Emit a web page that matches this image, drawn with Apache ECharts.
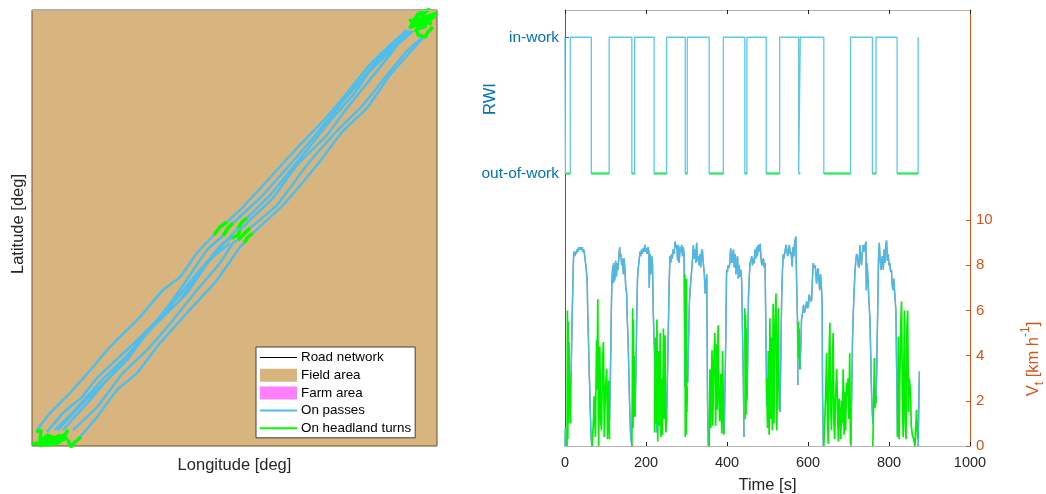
<!DOCTYPE html>
<html>
<head>
<meta charset="utf-8">
<style>html,body{margin:0;padding:0;background:#fff}#c{width:1046px;height:494px}</style>
<script src="https://cdn.jsdelivr.net/npm/echarts@6/dist/echarts.min.js"></script>
</head>
<body>
<div id="c"></div>
<script>
// ---------- Map panel data (relative longitude / latitude) ----------
const fieldLon = [0, 405, 405, 0];
const fieldLat = [0, 0, 436, 436];

const passLons = [
  [5,18,38,61,78,108,131,148,165,182],
  [195,210,235,265,291,311,335,355,375],
  [15,31,50,65,98,125,150,175,191],
  [201,228,255,281,308,328,348,378],
  [23,43,70,98,121,148,171,191,200],
  [215,238,271,298,321,338,365,381],
  [31,58,81,108,141,168,195,206],
  [208,220,241,265,295,315,345,371],
  [41,65,91,115,141,165,188,201,206],
  [218,245,275,305,331,355,375,390],
  [48,65,85,105,128,155,185,208,212],
  [221,251,285,311,335,358,391],
  [26,51,75,95,115,135,155,178,198]
];
const passLats = [
  [16,33,53,79,99,129,156,169,193,211],
  [224,238,265,298,325,348,378,398,416],
  [14,33,49,68,99,126,159,196,210],
  [223,248,278,308,341,365,388,415],
  [16,36,66,93,119,146,179,203,208],
  [228,251,291,325,351,375,401,415],
  [16,46,73,106,143,176,206,218],
  [216,228,248,281,311,338,375,408],
  [16,39,73,96,126,156,183,203,206],
  [218,241,281,315,341,371,395,408],
  [9,29,56,73,103,133,166,199,203],
  [213,241,281,315,338,371,408],
  [16,43,66,86,113,133,153,186,203]
];
const turnLons = [
  [182,188,195],[191,196,201],[206,210,215],[200,206,208],[206,213,218],[212,216,221],
  [0,6,16,24,30,36],[4,9,8,10],[14,23,33,36],[36,39,43,49],[13,21,29,16,26,34],[9,18,28],[12,20,30,22,14,25],[6,14,24,30],
  [377,391,405],[388,396],[377,385,395,401],[383,388,393],[385,386,393,396,401],[380,390,400],[379,386,398],[384,392,400],[381,389,394,386],[387,395,403]
];
const turnLats = [
  [211,219,224],[210,218,223],[218,224,228],[208,211,216],[206,213,218],[203,209,213],
  [2,3,1,4,6,8],[14,16,6,-1],[11,8,11,16],[6,-1,4,9],[6,9,4,3,7,9],[8,4,11],[10,6,7,2,5,9],[1,5,2,6],
  [425,428,433],[429,436],[418,423,426,428],[414,421,429],[416,411,409,414,419],[419,424,431],[420,432,437],[414,425,422],[422,426,420,417],[418,424,430]
];
const legendNames = ['Road network','Field area','Farm area','On passes','On headland turns'];

// ---------- RWI data ----------
const rwiTime = [0,1,13,65,109,165,172,220,251,297,302,356,391,444,449,497,530,577,581,639,705,759,768,820,872];
const rwiState = [1,0,1,0,1,0,1,0,1,0,1,0,1,0,1,0,1,0,1,0,1,0,1,0,1];
const rwiLabels = ['out-of-work','in-work'];

// ---------- Speed data ----------
const passTime = [
0,1,2,3,null,
13,15,17,19,20,21,22,24,26,28,30,32,34,36,38,40,42,44,46,48,50,52,54,55,56,58,60,62,64,66,null,
110,112,114,115,116,118,119,120,122,124,125,127,129,131,133,135,136,138,140,142,144,146,148,150,152,154,156,158,160,162,165,null,
173,175,177,179,181,183,185,187,189,191,193,195,197,199,201,203,205,207,208,210,212,214,216,218,220,222,224,226,null,
251,253,255,257,259,261,263,265,267,269,271,272,274,276,278,280,282,284,286,288,290,292,294,296,null,
303,305,307,309,311,313,315,317,319,321,323,325,327,329,331,333,335,337,339,342,344,346,348,350,352,354,null,
393,395,397,399,401,403,405,407,409,412,414,416,418,420,422,424,426,428,430,432,434,436,439,440,442,null,
450,452,453,455,457,459,461,463,465,467,469,471,473,475,477,479,482,484,486,488,490,492,494,496,498,null,
531,533,535,537,539,541,543,546,548,550,552,554,556,558,561,563,565,567,570,571,572,574,575,null,
580,582,584,586,589,591,593,595,597,599,601,603,605,607,609,611,613,615,617,619,621,623,625,627,629,631,633,635,636,638,null,
706,708,710,712,714,716,718,720,722,724,726,728,730,732,734,736,738,740,743,744,746,748,750,753,755,757,760,null,
768,770,771,773,774,776,778,780,782,784,786,788,790,792,794,796,798,800,802,804,806,808,810,812,814,817,819,821,null,
872,873,874,875
];
const passSpeed = [
0,0.8,0.7,0,null,
1.3,3.1,5.1,6.8,7.6,8.3,8.6,8.4,8.6,8.5,8.7,8.6,8.8,8.7,8.8,8.7,8.8,8.6,8.7,8.5,8.2,7.9,7.5,7.1,6.0,4.6,3.2,1.9,0.6,0,null,
1.1,3.0,5.5,6.6,7.4,8.0,7.2,8.1,7.3,7.5,8.2,7.5,8.1,7.8,8.4,8.8,8.4,8.5,8.0,8.3,7.6,8.3,7.8,7.0,6.8,5.5,4.5,3.0,1.5,0.5,0,null,
1.3,3.2,5.5,7.4,7.9,8.2,8.6,8.4,8.7,8.5,8.75,8.6,8.9,8.6,8.75,8.5,8.8,8.6,7.0,8.5,7.6,8.4,8.1,5.9,4.6,3.7,2.1,0.6,null,
1.4,3.1,5.1,7.0,8.4,8.1,8.5,8.3,8.7,8.5,8.8,9.05,8.8,8.9,8.2,8.9,8.1,8.8,8.6,8.9,8.4,8.8,8.5,2.65,null,
2.8,4.6,6.3,6.9,7.4,7.8,8.3,8.9,8.3,8.7,8.1,9.0,8.2,8.4,8.0,8.5,7.9,8.6,8.7,8.0,7.6,6.75,7.2,7.6,1.9,0,null,
0.56,2.6,4.8,7.8,7.7,8.0,7.9,8.1,8.75,8.1,8.4,8.7,7.9,8.5,7.6,8.2,8.4,7.4,8.0,7.5,7.8,7.4,7.35,3.4,0.4,null,
2.4,5.2,6.6,7.5,8.1,8.2,8.4,8.0,8.3,8.1,8.7,8.3,8.8,8.4,8.9,8.6,8.95,8.3,8.0,8.2,8.3,7.9,8.1,5.1,1.8,null,
1.5,4.2,6.6,7.8,8.5,8.3,8.6,8.9,8.6,8.4,8.7,8.9,8.5,8.6,7.95,8.8,8.4,9.0,9.27,8.1,7.2,5.6,2.7,null,
3.4,4.3,5.6,5.8,6.25,5.9,6.0,6.2,6.4,6.1,6.2,6.7,6.76,6.4,6.5,7.4,8.1,7.9,8.0,7.8,7.2,7.6,7.86,7.3,6.9,7.6,7.1,6.3,2.2,0,null,
0,2.4,4.8,6.0,6.9,7.7,8.2,8.5,8.4,8.0,7.9,8.9,8.4,8.0,8.5,8.9,8.6,8.8,9.05,6.9,8.1,7.4,6.6,5.6,3.9,2.3,1.0,null,
1.9,3.6,4.8,7.0,8.2,9.0,8.3,7.8,8.2,8.4,7.8,8.7,8.1,8.9,9.1,8.2,8.5,8.0,8.1,7.7,7.8,7.1,6.9,7.4,6.8,6.0,3.2,0.45,null,
0,1.0,2.2,3.3
];
const turnTime = [
5,6,7,8,9,10,11,12,14,null,
67,70,72,75,78,79,81,83,85,86,88,90,93,95,97,100,103,105,108,110,null,
165,166,167,168,169,170,171,172,null,
221,223,225,227,229,231,233,235,237,239,241,243,245,247,249,251,null,
296,297,298,299,300,301,302,null,
356,358,360,363,365,367,370,372,374,376,378,380,382,385,387,389,392,null,
444,445,446,447,448,449,450,null,
498,500,502,504,506,508,510,512,514,516,518,521,523,525,527,529,null,
576,577,578,579,580,null,
639,642,644,646,648,650,652,654,656,658,660,662,664,666,668,671,673,675,677,679,681,683,685,687,689,691,693,695,697,699,701,703,705,null,
760,762,764,766,768,null,
821,823,825,827,829,831,833,835,838,840,842,844,846,848,850,853,855,858,861,864,868,871
];
const turnSpeed = [
0,6.0,0.3,5.5,1.0,4.6,2.0,3.2,1.0,null,
0,1.0,2.2,0.4,4.7,2.5,6.5,0,4.0,4.4,1.1,0.7,3.9,4.6,0.4,2.6,3.4,0.3,2.9,0.3,null,
0,2.0,6.1,0.8,5.6,1.4,4.0,1.3,null,
0.6,4.8,1.0,5.6,0.2,4.2,0.9,5.0,0.4,3.0,0.5,5.2,1.2,4.9,0.6,1.4,null,
7.6,0.4,6.8,0.5,7.4,1.5,2.6,null,
0,3.4,0.8,4.25,0.9,3.5,5.0,0.9,4.5,1.6,5.35,2.4,1.1,3.2,0.55,4.2,0.5,null,
6.1,1.2,5.8,1.4,5.2,2.0,2.4,null,
3.0,0.8,4.2,0.5,5.65,1.2,4.8,0.7,6.3,1.0,5.0,6.75,0.7,3.9,6.1,1.6,null,
5.5,3.9,5.2,3.8,3.4,null,
0,1.4,2.6,4.1,1.3,0.1,4.0,5.45,1.6,0.7,3.2,5.0,1.0,0.3,2.2,3.4,1.5,0.2,2.1,1.4,0.3,2.0,1.0,3.4,0.5,2.4,0.7,2.8,2.2,3.0,1.2,4.1,0.1,null,
0,1.8,3.9,1.7,2.2,null,
0.4,4.85,0.3,3.2,5.4,6.4,2.3,0.4,6.0,1.0,0.3,5.1,6.0,1.5,3.0,2.4,0.9,0.45,0.3,0,1.6,0.3
];

// ---------- Helpers that turn the lists into series data ----------
const joinPaths = (xs, ys) => xs.flatMap((xr, i) => [...xr.map((x, j) => [x, ys[i][j]]), ['-', '-']]);
const zip = (xs, ys) => xs.map((x, i) => x === null ? ['-', '-'] : [x, ys[i]]);
const rwiLine = rwiTime.map((t, i) => [t, rwiState[i]]);
const rwiOut = rwiTime.flatMap((t, i) => rwiState[i] === 0 && i + 1 < rwiTime.length ? [[t, 0], [rwiTime[i + 1], 0], ['-', '-']] : []);

const C_TEXT = '#262626', C_BLUE = '#0072BD', C_ORANGE = '#D95319', C_GREY = '#b3b3b3';
const FONT = '"Liberation Sans", Arial, sans-serif';
const PASS = '#4DBEEE', GREEN = '#00F000';
// A legend key that is a thin horizontal stroke inside the full key box.
const strokeIcon = h => `path://M0 0h.01v.01h-.01z M0 ${6.5 - h / 2}h37v${h}h-37z M0 12.99h.01v.01h-.01z`;

const chart = echarts.init(document.getElementById('c'), null, {renderer: 'canvas'});
chart.setOption({
  animation: false,
  textStyle: {fontFamily: FONT},
  grid: [
    {left: 32, top: 10, width: 405, height: 436, containLabel: false, outerBoundsMode: 'none'},
    {left: 565, top: 10, width: 405, height: 436, containLabel: false, outerBoundsMode: 'none'}
  ],
  xAxis: [
    {gridIndex: 0, type: 'value', min: 0, max: 405, name: 'Longitude [deg]', nameLocation: 'middle', nameGap: 11,
     nameTextStyle: {color: C_TEXT, fontSize: 16.5, fontFamily: FONT},
     axisLine: {show: false}, axisTick: {show: false}, axisLabel: {show: false}, splitLine: {show: false}},
    {gridIndex: 0, type: 'value', position: 'top', min: 0, max: 405, z: 10,
     axisLine: {show: true, onZero: false, lineStyle: {color: C_GREY, width: 1}}, axisTick: {show: false}, axisLabel: {show: false}, splitLine: {show: false}},
    {gridIndex: 1, type: 'value', min: 0, max: 1000, interval: 200, name: 'Time [s]', nameLocation: 'middle', nameGap: 31,
     nameTextStyle: {color: C_TEXT, fontSize: 16.5, fontFamily: FONT},
     axisLine: {show: true, onZero: false, lineStyle: {color: C_GREY, width: 1}},
     axisTick: {show: true, inside: true, length: 4, lineStyle: {color: '#222', width: 1}},
     axisLabel: {color: C_TEXT, fontSize: 14.5, fontFamily: FONT, margin: 9, hideOverlap: false, formatter: v => String(v)}, splitLine: {show: false}},
    {gridIndex: 1, type: 'value', position: 'top', min: 0, max: 1000, interval: 200,
     axisLine: {show: true, onZero: false, lineStyle: {color: C_GREY, width: 1}},
     axisTick: {show: true, inside: true, length: 4, lineStyle: {color: '#222', width: 1}},
     axisLabel: {show: false}, splitLine: {show: false}}
  ],
  yAxis: [
    {gridIndex: 0, type: 'value', min: 0, max: 436, name: 'Latitude [deg]', nameLocation: 'middle', nameGap: 5,
     nameTextStyle: {color: C_TEXT, fontSize: 16.5, fontFamily: FONT, padding: [0, 0, 0, 8]},
     axisLine: {show: false}, axisTick: {show: false}, axisLabel: {show: false}, splitLine: {show: false}},
    {gridIndex: 1, type: 'value', min: -2, max: 1.2,
     axisLine: {show: true, onZero: false, lineStyle: {color: C_BLUE, width: 1}},
     axisTick: {show: true, inside: true, length: 4, customValues: [0, 1], lineStyle: {color: C_BLUE}},
     axisLabel: {color: C_BLUE, fontSize: 15.5, fontFamily: FONT, margin: 6, customValues: [0, 1], formatter: v => rwiLabels[v]},
     splitLine: {show: false}},
    {gridIndex: 1, type: 'value', position: 'right', min: 0, max: 19.3,
     axisLine: {show: true, onZero: false, lineStyle: {color: C_ORANGE, width: 1}},
     axisTick: {show: true, inside: true, length: 4, customValues: [0, 2, 4, 6, 8, 10], lineStyle: {color: C_ORANGE}},
     axisLabel: {color: C_ORANGE, fontSize: 15, fontFamily: FONT, margin: 6, customValues: [0, 2, 4, 6, 8, 10]},
     splitLine: {show: false}}
  ],
  legend: {
    show: true, orient: 'vertical', left: 256, top: 347, padding: [4, 4, 3, 4], itemGap: 4.7, itemWidth: 37, itemHeight: 13,
    backgroundColor: '#fff', borderColor: '#404040', borderWidth: 1, borderRadius: 0, selectedMode: false,
    textStyle: {color: '#000', fontSize: 13.4, fontFamily: FONT, padding: [0, 0, 0, -1]},
    data: [
      {name: legendNames[0], icon: strokeIcon(1)},
      {name: legendNames[1], icon: 'rect'},
      {name: legendNames[2], icon: 'rect'},
      {name: legendNames[3], icon: strokeIcon(2)},
      {name: legendNames[4], icon: strokeIcon(2)}
    ]
  },
  graphic: [
    {type: 'text', rotation: Math.PI / 2, x: 490, y: 99, style: {text: 'RWI', fill: C_BLUE, font: '16.5px ' + FONT, align: 'center', verticalAlign: 'middle'}},
    {type: 'text', rotation: Math.PI / 2, x: 1033, y: 359, style: {
      text: '{a|V}{s|t}{a| [km h}{u|-1}{a|]}', align: 'center', verticalAlign: 'middle',
      rich: {
        a: {fill: C_ORANGE, font: '16.5px ' + FONT, lineHeight: 26},
        s: {fill: C_ORANGE, font: '12px ' + FONT, verticalAlign: 'bottom', lineHeight: 22},
        u: {fill: C_ORANGE, font: '12px ' + FONT, verticalAlign: 'top', lineHeight: 22}
      }
    }}
  ],
  series: [
    {name: legendNames[1], type: 'custom', xAxisIndex: 0, yAxisIndex: 0, z: 1, clip: false,
     itemStyle: {color: '#D8B47F'},
     data: fieldLon.map((x, i) => [x, fieldLat[i]]),
     renderItem: (params, api) => params.dataIndex === 0 ? ({
       type: 'polygon',
       shape: {points: fieldLon.map((x, i) => api.coord([x, fieldLat[i]]))},
       style: {fill: '#D8B47F', stroke: '#6e5226', lineWidth: 1}
     }) : null},
    {name: legendNames[2], type: 'custom', xAxisIndex: 0, yAxisIndex: 0, itemStyle: {color: '#FF80FF'}, data: [], renderItem: () => null},
    {name: legendNames[0], type: 'line', xAxisIndex: 0, yAxisIndex: 0, data: [], symbol: 'none', itemStyle: {color: '#000'}, lineStyle: {color: '#000', width: 1}},
    {name: legendNames[3], type: 'line', xAxisIndex: 0, yAxisIndex: 0, z: 3, data: joinPaths(passLons, passLats), symbol: 'none', smooth: 0.15, connectNulls: false,
     itemStyle: {color: PASS}, lineStyle: {color: PASS, width: 2.5}},
    {name: legendNames[4], type: 'line', xAxisIndex: 0, yAxisIndex: 0, z: 4, clip: false, data: joinPaths(turnLons, turnLats), symbol: 'none', connectNulls: false,
     itemStyle: {color: '#00FF00'}, lineStyle: {color: '#00FF00', width: 3.5}},

    {name: 'RWI on passes', type: 'line', xAxisIndex: 2, yAxisIndex: 1, step: 'end', data: rwiLine, symbol: 'none', z: 3,
     lineStyle: {color: '#5CC8F0', width: 1.3}},
    {name: 'RWI on turns', type: 'line', xAxisIndex: 2, yAxisIndex: 1, data: rwiOut, symbol: 'none', z: 4, connectNulls: false,
     lineStyle: {color: '#22F050', width: 2}},
    {name: 'Speed underlay', type: 'line', xAxisIndex: 2, yAxisIndex: 2, data: zip(passTime, passSpeed), symbol: 'none', z: 2, connectNulls: false,
     lineStyle: {color: '#6B8A9C', width: 1.4}},
    {name: 'Speed on passes', type: 'line', xAxisIndex: 2, yAxisIndex: 2, data: zip(passTime, passSpeed), symbol: 'none', z: 3, connectNulls: false,
     lineStyle: {color: PASS, width: 1.4, opacity: 0.9}},
    {name: 'Speed on turns', type: 'line', xAxisIndex: 2, yAxisIndex: 2, data: zip(turnTime, turnSpeed), symbol: 'none', z: 4, connectNulls: false,
     lineStyle: {color: GREEN, width: 1.7}}
  ]
});
</script>
</body>
</html>
